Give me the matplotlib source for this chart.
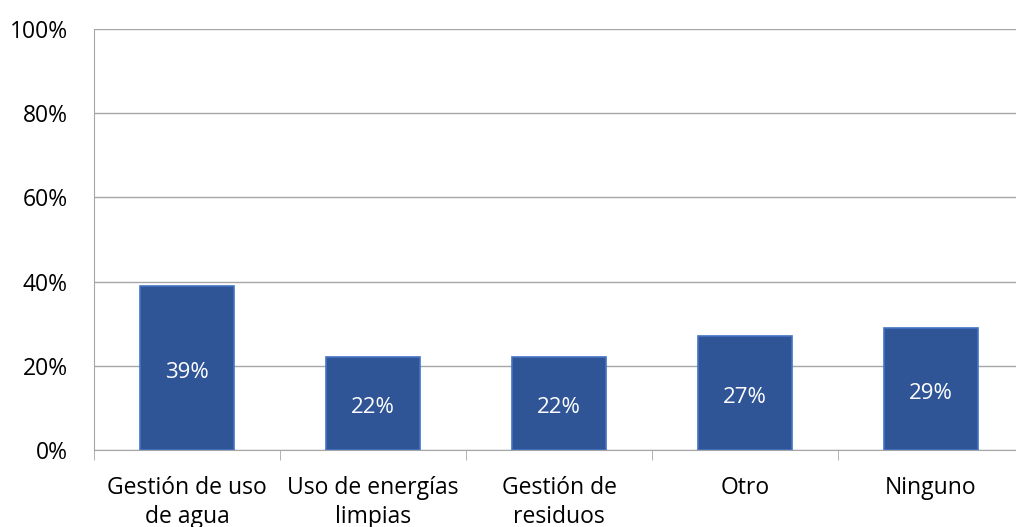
import numpy as np
import matplotlib.pyplot as plt
from matplotlib.ticker import FixedLocator, PercentFormatter

# data
categorias = ['Gestión de uso\nde agua', 'Uso de energías\nlimpias', 'Gestión de\nresiduos', 'Otro', 'Ninguno']
valores = [39, 22, 22, 27, 29]

plt.rcParams['font.family'] = ['Open Sans', 'DejaVu Sans']

fig = plt.figure(figsize=(10.16, 5.27), dpi=100)
ax = fig.add_axes([94/1016, 77/527, 930/1016, 421/527])

x = np.arange(len(categorias))
bars = ax.bar(x, valores, width=0.505, color='#2F5597', edgecolor='#4472C4', linewidth=1.2, zorder=3)

for b, v in zip(bars, valores):
    ax.text(b.get_x() + b.get_width()/2, v/2 - 1, f'{v}%', ha='center', va='center',
            color='white', fontsize=16, zorder=4)

ax.set_xlim(-0.5, len(categorias) - 0.5)
ax.set_ylim(0, 100)
ax.set_yticks(np.arange(0, 101, 20))
ax.yaxis.set_major_formatter(PercentFormatter(decimals=0))
ax.grid(axis='y', color='#A6A6A6', linewidth=1, zorder=0)
ax.tick_params(axis='y', length=0, labelsize=16.5, pad=19)

ax.set_xticks(x)
ax.set_xticklabels(categorias, fontsize=16.5, linespacing=1.25)
ax.tick_params(axis='x', which='major', length=0, pad=19)
ax.xaxis.set_minor_locator(FixedLocator(np.arange(-0.5, len(categorias), 1)))
ax.tick_params(axis='x', which='minor', length=7, color='#A6A6A6')

for s in ['top', 'right']:
    ax.spines[s].set_visible(False)
ax.spines['left'].set_color('#A6A6A6')
ax.spines['bottom'].set_color('#A6A6A6')

fig.savefig('out.png', dpi=100)
